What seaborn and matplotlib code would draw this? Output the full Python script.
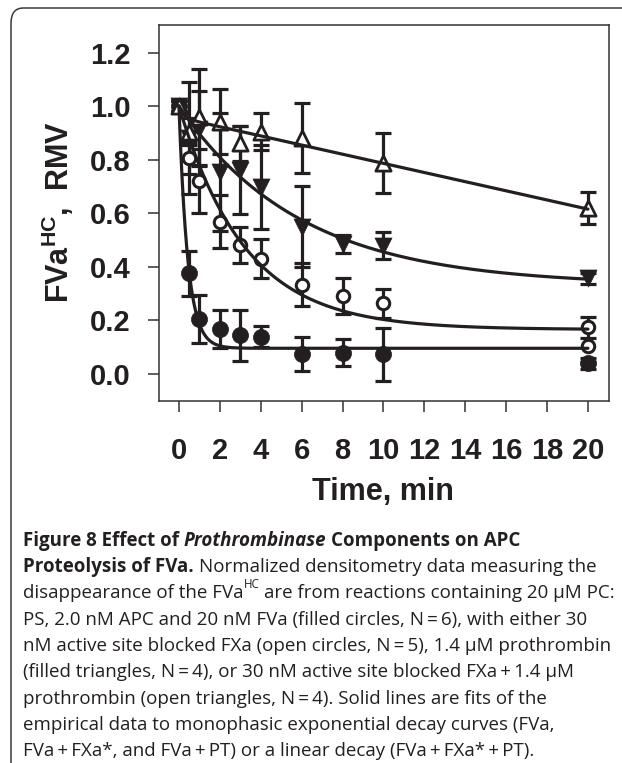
import numpy as np
import pandas as pd
import matplotlib
matplotlib.use("Agg")
import matplotlib.pyplot as plt
import seaborn as sns
from matplotlib.patches import FancyBboxPatch

# ---------------- data ----------------
time_min = [0, 0.5, 1, 2, 3, 4, 6, 8, 10, 20]

fva = [1.0, 0.375, 0.203, 0.167, 0.143, 0.138, 0.074, 0.079, 0.072, 0.039]
fva_err = [0.02, 0.085, 0.09, 0.07, 0.095, 0.04, 0.065, 0.05, 0.1, 0.02]

fva_fxa = [1.0, 0.805, 0.72, 0.568, 0.481, 0.43, 0.332, 0.29, 0.263, 0.173]
fva_fxa_err = [0.02, 0.06, 0.12, 0.1, 0.068, 0.073, 0.08, 0.066, 0.055, 0.04]

fva_pt = [1.0, 0.88, 0.915, 0.755, 0.76, 0.699, 0.55, 0.485, 0.478, 0.357]
fva_pt_err = [0.02, 0.21, 0.14, 0.22, 0.165, 0.157, 0.15, 0.035, 0.05, 0.02]

time_tri_open = [0, 0.5, 1, 2, 3, 4, 6, 10, 20]
fva_fxa_pt = [1.0, 0.905, 0.96, 0.942, 0.861, 0.905, 0.88, 0.786, 0.618]
fva_fxa_pt_err = [0.02, 0.05, 0.18, 0.12, 0.065, 0.068, 0.13, 0.112, 0.06]

extra_open_t = [20]
extra_open_y = [0.105]

# fit parameters
exp_fits = {  # name: (plateau, amplitude, rate per min)
    "FVa": (0.095, 0.905, 2.3),
    "FVa+FXa*": (0.165, 0.835, 0.31),
    "FVa+PT": (0.33, 0.67, 0.168),
}
lin_fit = (0.957, -0.0171, 0.043, 4.0)  # intercept, slope, initial term, its rate

x_ticks = [0, 2, 4, 6, 8, 10, 12, 14, 16, 18, 20]
y_ticks = [0.0, 0.2, 0.4, 0.6, 0.8, 1.0, 1.2]

# ---------------- style ----------------
sns.set_theme(style="ticks")
plt.rcParams['font.family'] = ['Liberation Sans', 'DejaVu Sans']
plt.rcParams['mathtext.fontset'] = 'custom'
plt.rcParams['mathtext.bf'] = 'Liberation Sans:bold'
plt.rcParams['mathtext.rm'] = 'Liberation Sans'

INK = '#231f20'
W, H = 622, 763
fig = plt.figure(figsize=(W / 100, H / 100), dpi=100)
fig.patch.set_facecolor('white')

# outer rounded border (only the top-left part visible)
border = FancyBboxPatch((11 / W, -0.2), 1.3, (1 - 8 / H) + 0.2,
                        boxstyle="round,pad=0,rounding_size=0.02",
                        transform=fig.transFigure, fill=False,
                        edgecolor='#3a3a3a', linewidth=1.1, zorder=0)
fig.patches.append(border)

ax = fig.add_axes([158.7 / W, 1 - 401 / H, (609 - 158.7) / W, (401 - 25) / H])
ax.set_facecolor('white')

tt = np.linspace(0, 20, 801)
for name, (p, a, k) in exp_fits.items():
    sns.lineplot(x=tt, y=p + a * np.exp(-k * tt), ax=ax, color=INK, lw=2.3,
                 zorder=4, estimator=None, sort=False)
b0, b1, c0, ck = lin_fit
sns.lineplot(x=tt, y=b0 + b1 * tt + c0 * np.exp(-ck * tt), ax=ax, color=INK,
             lw=2.3, zorder=4, estimator=None, sort=False)

ebkw = dict(fmt='none', ecolor=INK, elinewidth=2.3, capsize=5.5, capthick=2.3, zorder=2)
ax.errorbar(time_min, fva, yerr=fva_err, **ebkw)
ax.errorbar(time_min, fva_fxa, yerr=fva_fxa_err, **ebkw)
ax.errorbar(time_min, fva_pt, yerr=fva_pt_err, **ebkw)
ax.errorbar(time_tri_open, fva_fxa_pt, yerr=fva_fxa_pt_err, **ebkw)

sns.scatterplot(x=time_min, y=fva, ax=ax, marker='o', s=135, color=INK,
                edgecolor=INK, linewidth=0.5, zorder=3)
sns.scatterplot(x=time_min, y=fva_fxa, ax=ax, marker='o', s=80, color='white',
                edgecolor=INK, linewidth=2.2, zorder=3)
sns.scatterplot(x=extra_open_t, y=extra_open_y, ax=ax, marker='o', s=80, color='white',
                edgecolor=INK, linewidth=2.2, zorder=3)
sns.scatterplot(x=time_min, y=fva_pt, ax=ax, marker='v', s=150, color=INK,
                edgecolor=INK, linewidth=0.5, zorder=3)
sns.scatterplot(x=time_tri_open, y=fva_fxa_pt, ax=ax, marker='^', s=120, color='white',
                edgecolor=INK, linewidth=2.0, zorder=3)

ax.set_xlim(-0.99, 21.03)
ax.set_ylim(-0.102, 1.303)
ax.set_xticks(x_ticks)
ax.set_xticklabels([str(v) for v in x_ticks])
ax.set_yticks(y_ticks)
ax.set_yticklabels([f"{v:.1f}" for v in y_ticks])
ax.tick_params(axis='both', direction='out', length=8, width=1.1, color='#333333',
               labelsize=21, labelcolor=INK)
ax.tick_params(axis='x', pad=18)
ax.tick_params(axis='y', pad=12)
for lab in ax.get_xticklabels() + ax.get_yticklabels():
    lab.set_fontweight('bold')
for sp in ax.spines.values():
    sp.set_linewidth(1.1)
    sp.set_color('#333333')
ax.set_xlabel('')
ax.set_ylabel('')

fig.text(383 / W, 1 - 492 / H, 'Time, min', fontsize=22, fontweight='bold',
         color=INK, ha='center', va='center')
fig.text(58 / W, 1 - 212 / H, r'$\mathbf{FVa^{HC},\ RMV}$', fontsize=22,
         color=INK, ha='center', va='center', rotation=90)

# ---------------- caption ----------------
renderer = fig.canvas.get_renderer()
CAP_FONT = ['Open Sans', 'DejaVu Sans']
CAP_SIZE = 13.5


def text_width(s, size, weight, style):
    t = fig.text(0, 0, s, fontsize=size, fontweight=weight, fontstyle=style,
                 family=CAP_FONT)
    w = t.get_window_extent(renderer).width
    t.remove()
    return w


def space_w(size, weight, style):
    return text_width('a a', size, weight, style) - text_width('aa', size, weight, style)


def draw_line(runs, x0, baseline):
    x = x0
    for text, weight, style, sup in runs:
        size = CAP_SIZE * (0.62 if sup else 1.0)
        lead = len(text) - len(text.lstrip(' '))
        core = text.strip(' ')
        trail = len(text) - len(text.rstrip(' '))
        if lead:
            x += lead * space_w(size, weight, style)
        yb = baseline - (CAP_SIZE * 0.55 * 100 / 72 if sup else 0)
        t = fig.text(x / W, 1 - yb / H, core, fontsize=size, fontweight=weight,
                     fontstyle=style, family=CAP_FONT, color=INK, ha='left', va='baseline')
        x += t.get_window_extent(renderer).width
        if trail:
            x += trail * space_w(size, weight, style)


R, B = 'normal', 'bold'
N, I = 'normal', 'italic'
caption = [
    [("Figure 8 Effect of ", B, N, False), ("Prothrombinase", B, I, False),
     (" Components on APC", B, N, False)],
    [("Proteolysis of FVa.", B, N, False),
     (" Normalized densitometry data measuring the", R, N, False)],
    [("disappearance of the FVa", R, N, False), ("HC", R, N, True),
     (" are from reactions containing 20 \u00b5M PC:", R, N, False)],
    [("PS, 2.0 nM APC and 20 nM FVa (filled circles, N\u2009=\u20096), with either 30", R, N, False)],
    [("nM active site blocked FXa (open circles, N\u2009=\u20095), 1.4 \u00b5M prothrombin", R, N, False)],
    [("(filled triangles, N\u2009=\u20094), or 30 nM active site blocked FXa\u2009+\u20091.4 \u00b5M", R, N, False)],
    [("prothrombin (open triangles, N\u2009=\u20094). Solid lines are fits of the", R, N, False)],
    [("empirical data to monophasic exponential decay curves (FVa,", R, N, False)],
    [("FVa\u2009+\u2009FXa*, and FVa\u2009+\u2009PT) or a linear decay (FVa\u2009+\u2009FXa*\u2009+\u2009PT).", R, N, False)],
]
base0 = 546
for i, runs in enumerate(caption):
    draw_line(runs, 23, base0 + i * 26.25)

fig.savefig('out.png', dpi=100, facecolor='white')
